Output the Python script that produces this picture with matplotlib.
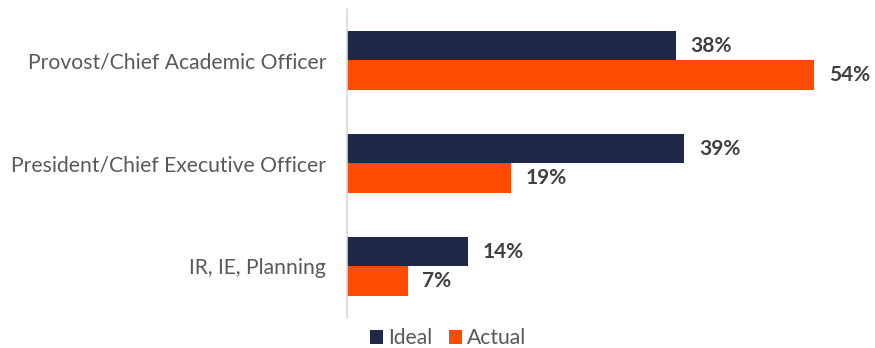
import matplotlib
matplotlib.use("Agg")
import matplotlib.pyplot as plt
import numpy as np

categories = ["Provost/Chief Academic Officer", "President/Chief Executive Officer", "IR, IE, Planning"]
ideal = [38, 39, 14]
actual = [54, 19, 7]

NAVY = "#20284a"
ORANGE = "#ff4b00"

plt.rcParams["font.family"] = ["Lato", "DejaVu Sans"]

fig = plt.figure(figsize=(8.75, 3.48), dpi=100)
ax = fig.add_axes([0.3966, 0.0862, 0.593, 0.888])

y = np.arange(len(categories))
h = 0.29
ax.barh(y - h / 2, ideal, height=h, color=NAVY, label="Ideal")
ax.barh(y + h / 2, actual, height=h, color=ORANGE, label="Actual")

for yi, v in zip(y - h / 2, ideal):
    ax.text(v + 1.7, yi, f"{v}%", va="center", ha="left", fontsize=15, fontweight="bold", color="#404040")
for yi, v in zip(y + h / 2, actual):
    ax.text(v + 1.7, yi, f"{v}%", va="center", ha="left", fontsize=15, fontweight="bold", color="#404040")

ax.set_xlim(0, 60)
ax.set_ylim(2.5, -0.5)
ax.set_yticks(y)
ax.set_yticklabels(categories, fontsize=15.2, color="#595959")
ax.tick_params(axis="y", length=0, pad=15)
ax.set_xticks([])
for s in ["top", "right", "bottom"]:
    ax.spines[s].set_visible(False)
ax.spines["left"].set_color("#d9d9d9")
ax.spines["left"].set_linewidth(1.2)

fig.legend(loc="center", bbox_to_anchor=(0.512, 0.028), ncol=2, frameon=False,
           fontsize=15.2, handlelength=0.6, handleheight=0.6, handletextpad=0.25,
           columnspacing=0.8, labelcolor="#595959")

fig.savefig("out.png", dpi=100)
